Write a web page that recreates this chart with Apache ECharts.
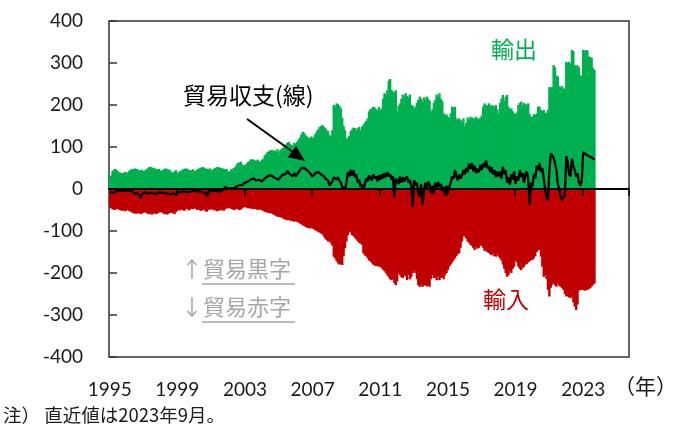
<!DOCTYPE html>
<html>
<head>
<meta charset="utf-8">
<script src="https://cdn.jsdelivr.net/npm/echarts@6/dist/echarts.min.js"></script>
<style>
  html, body { margin: 0; padding: 0; background: #fff; }
  #chart { width: 678px; height: 427px; }
</style>
</head>
<body>
<div id="chart"></div>
<script>
// Monthly trade, Jan 1995 – Sep 2023 (one row per year)
const exportsData = [
  29,32,43,46,48,45,42,40,38,37,39,41,        // 1995
  38,40,44,46,48,47,49,48,46,45,44,46,        // 1996
  42,44,47,49,52,53,51,50,49,48,46,48,        // 1997
  44,43,46,48,49,47,46,44,40,38,42,45,        // 1998
  40,38,43,44,47,48,49,48,46,45,44,47,        // 1999
  42,44,46,48,50,51,52,51,49,48,47,49,        // 2000
  44,46,48,50,52,53,51,50,49,48,46,48,        // 2001
  42,41,46,47,50,52,58,62,63,65,58,56,        // 2002
  57,60,64,66,70,71,70,68,67,70,66,65,        // 2003
  70,72,80,83,88,90,92,93,90,92,88,95,        // 2004
  88,92,96,98,102,106,110,112,108,105,102,110, // 2005
  108,112,118,122,130,136,134,128,125,122,120,125, // 2006
  121,125,132,138,142,148,150,152,148,145,140,138, // 2007
  128,126,140,200,196,204,202,198,192,170,150,140, // 2008
  118,122,126,138,142,146,145,140,145,148,140,148, // 2009
  152,158,162,168,185,190,192,196,194,190,188,195, // 2010
  188,192,215,228,225,235,258,262,236,232,230,235, // 2011
  185,198,204,215,225,220,228,222,218,225,200,198, // 2012
  190,196,205,212,220,215,208,218,212,220,215,210, // 2013
  182,190,205,212,225,220,228,215,210,180,175,178, // 2014
  172,170,180,196,194,196,168,165,168,164,160,168, // 2015
  150,158,170,165,172,168,170,166,172,168,165,170, // 2016
  175,196,204,200,198,204,196,200,198,196,200,190, // 2017
  180,205,215,224,210,220,224,196,190,192,185,180, // 2018
  178,182,200,205,208,200,205,202,200,204,178,172, // 2019
  172,178,176,180,196,196,188,185,188,180,182,188, // 2020
  243,240,243,295,290,270,268,245,242,245,240,238, // 2021
  303,300,303,298,331,328,295,292,295,290,271,268, // 2022
  331,328,331,330,315,315,312,288,283              // 2023
];

const importsData = [
  -42,-46,-48,-50,-49,-48,-47,-50,-51,-52,-50,-53,   // 1995
  -51,-50,-53,-54,-56,-58,-58,-59,-57,-58,-60,-58,   // 1996
  -56,-55,-57,-59,-60,-58,-61,-59,-57,-60,-58,-56,   // 1997
  -55,-56,-58,-60,-59,-61,-58,-57,-56,-58,-60,-55,   // 1998
  -52,-50,-51,-49,-50,-52,-48,-47,-51,-49,-47,-48,   // 1999
  -46,-47,-50,-48,-51,-52,-50,-49,-53,-54,-50,-48,   // 2000
  -49,-48,-51,-50,-53,-52,-50,-51,-49,-52,-48,-46,   // 2001
  -46,-44,-47,-48,-50,-49,-47,-48,-50,-49,-46,-44,   // 2002
  -43,-44,-46,-45,-47,-46,-48,-47,-48,-50,-48,-49,   // 2003
  -50,-52,-54,-55,-56,-57,-58,-58,-60,-62,-64,-66,   // 2004
  -66,-67,-68,-70,-72,-73,-74,-74,-75,-76,-76,-78,   // 2005
  -76,-78,-80,-82,-84,-86,-88,-90,-92,-93,-94,-92,   // 2006
  -94,-96,-98,-100,-102,-104,-106,-108,-113,-118,-122,-125, // 2007
  -125,-129,-135,-161,-165,-172,-177,-180,-178,-181,-160,-141, // 2008
  -125,-110,-101,-104,-110,-112,-116,-120,-124,-128,-130,-133, // 2009
  -153,-158,-160,-165,-170,-172,-176,-180,-182,-184,-183,-185, // 2010
  -185,-188,-192,-196,-200,-205,-210,-215,-217,-215,-224,-229, // 2011
  -220,-200,-205,-210,-212,-205,-208,-217,-205,-215,-210,-200, // 2012
  -195,-200,-215,-229,-233,-228,-233,-230,-229,-232,-229,-233, // 2013
  -215,-205,-212,-210,-217,-208,-217,-212,-210,-215,-205,-200, // 2014
  -193,-185,-180,-175,-170,-165,-160,-155,-153,-140,-125,-113, // 2015
  -113,-118,-125,-128,-133,-135,-140,-145,-138,-142,-140,-135, // 2016
  -135,-140,-148,-145,-150,-152,-155,-158,-153,-160,-161,-155, // 2017
  -161,-165,-170,-180,-190,-200,-209,-205,-195,-200,-190,-185, // 2018
  -170,-175,-185,-190,-193,-188,-185,-180,-178,-175,-172,-169, // 2019
  -169,-165,-160,-150,-145,-145,-161,-185,-209,-205,-214,-240, // 2020
  -256,-235,-228,-224,-229,-233,-225,-230,-233,-236,-240,-250, // 2021
  -256,-255,-258,-260,-256,-270,-280,-288,-275,-242,-240,-240, // 2022
  -240,-242,-241,-240,-238,-236,-232,-228,-225                 // 2023
];

const balanceData = [
  -6,-8,-10,-9,-7,-6,-4,-2,-3,-1,-5,-2,      // 1995
  -4,-1,-3,-2,-6,-8,-11,-14,-10,-16,-22,-12, // 1996
  -10,-8,-9,-11,-10,-9,-10,-11,-9,-12,-10,-8, // 1997
  -10,-9,-8,-10,-12,-11,-9,-13,-12,-10,-11,-14, // 1998
  -6,-4,-8,-5,-6,-7,-6,-5,-8,-4,-6,-3,       // 1999
  -4,-2,-6,-3,-5,-2,-8,-6,-9,-18,-7,-4,      // 2000
  -5,-3,-4,-2,-5,-3,-6,-2,-4,-1,5,8,         // 2001
  0,-1,2,0,1,3,6,7,9,8,9,6,                  // 2002
  15,17,18,20,22,24,25,22,20,24,22,20,       // 2003
  18,22,25,26,30,31,33,30,29,28,25,28,       // 2004
  22,28,32,34,38,36,42,40,35,33,30,38,       // 2005
  30,35,40,45,50,53,50,48,45,42,38,35,       // 2006
  30,33,38,41,40,38,35,33,30,25,22,20,       // 2007
  8,10,18,28,25,22,28,20,15,5,2,0,           // 2008
  15,40,30,45,32,45,28,35,15,22,5,12,        // 2009
  -2,10,25,18,32,28,20,35,25,30,18,32,       // 2010
  22,35,25,38,28,40,30,35,22,30,-20,25,      // 2011
  25,12,30,15,28,18,25,30,15,22,8,-42,       // 2012
  21,8,15,-10,-18,12,-38,-5,15,0,18,10,      // 2013
  -10,8,-12,15,0,17,5,12,-5,5,-15,8,         // 2014
  -10,5,15,30,25,45,30,20,35,25,32,45,       // 2015
  35,50,40,60,48,62,42,55,38,48,40,58,       // 2016
  45,60,52,68,50,55,40,52,35,45,28,42,       // 2017
  30,42,25,53,35,45,15,28,10,35,22,42,       // 2018
  12,30,20,45,28,38,15,35,42,22,-38,15,      // 2019
  5,35,25,55,45,62,40,50,25,-2,-20,-26,      // 2020
  45,85,82,74,62,45,12,0,-18,-26,-22,-15,    // 2021
  78,65,35,30,72,55,45,30,37,15,8,20,        // 2022
  88,86,82,80,78,75,75,72,70                 // 2023
];

// Year labels shown under the axis
const yearTicks = ['1995', '1999', '2003', '2007', '2011', '2015', '2019', '2023'];

// Monthly categories; the axis runs past the last observation
const startYear = 1995;
const monthSlots = 369;
const categories = [];
for (let i = 0; i < monthSlots; i++) {
  const y = startYear + Math.floor(i / 12);
  const m = (i % 12) + 1;
  categories.push(y + '-' + (m < 10 ? '0' + m : '' + m));
}

const GREEN = '#00b050';
const RED = '#c00000';
const GRAY = '#a6a6a6';
const JP = '"Noto Sans CJK JP", sans-serif';
const NUM = 'Lato, "Liberation Sans", sans-serif';

const chart = echarts.init(document.getElementById('chart'), null, { renderer: 'canvas' });

chart.setOption({
  animation: false,
  backgroundColor: '#fff',
  grid: {
    left: 109, right: 49, top: 21, bottom: 70,
    show: true, borderColor: '#333', borderWidth: 1.5, backgroundColor: 'transparent'
  },
  xAxis: [
    {
      type: 'category',
      data: categories,
      position: 'bottom',
      axisLine: { show: false, onZero: false },
      axisTick: { show: false },
      splitLine: { show: false },
      axisLabel: {
        interval: (idx, val) => val.endsWith('-01') && yearTicks.includes(val.slice(0, 4)),
        formatter: (val) => val.slice(0, 4),
        margin: 23,
        fontFamily: NUM, fontSize: 19, color: '#1a1a1a'
      }
    },
    {
      type: 'category',
      data: categories,
      z: 3,
      axisLine: { show: true, onZero: true, onZeroAxisIndex: 0, lineStyle: { color: '#000', width: 2 } },
      axisTick: {
        show: true, inside: true, length: 7,
        interval: (idx) => idx > 0 && idx % 48 === 0,
        lineStyle: { color: '#000', width: 1.5 }
      },
      axisLabel: { show: false },
      splitLine: { show: false }
    }
  ],
  yAxis: {
    type: 'value',
    min: -400, max: 400, interval: 100,
    axisLine: { show: false },
    axisTick: { show: true, inside: true, length: 8, lineStyle: { color: '#333', width: 1.5 } },
    splitLine: { show: false },
    axisLabel: { margin: 26, fontFamily: NUM, fontSize: 19, color: '#1a1a1a' }
  },
  series: [
    {
      // bars slightly wider than a month slot so neighbours overlap without seams
      name: '輸出', type: 'bar', xAxisIndex: 0, data: exportsData,
      barWidth: 2.4, barGap: '-100%', z: 2,
      itemStyle: { color: GREEN }
    },
    {
      name: '輸入', type: 'bar', xAxisIndex: 0, data: importsData,
      barWidth: 2.4, barGap: '-100%', z: 2,
      itemStyle: { color: RED }
    },
    {
      name: '貿易収支', type: 'line', xAxisIndex: 0, data: balanceData,
      symbol: 'none', z: 5,
      lineStyle: { color: '#000', width: 2.3 }
    }
  ],
  graphic: [
    { type: 'text', left: 183, top: 84, z: 10,
      style: { text: '貿易収支(線)', font: '23px ' + JP, fill: '#000' } },
    { type: 'line', z: 10,
      shape: { x1: 247, y1: 119, x2: 293, y2: 152 },
      style: { stroke: '#000', lineWidth: 2 } },
    { type: 'polygon', z: 10,
      shape: { points: [[305, 161], [287.9, 157.3], [296.1, 145.9]] },
      style: { fill: '#000' } },
    { type: 'text', left: 491, top: 38, z: 10,
      style: { text: '輸出', font: '23px ' + JP, fill: GREEN } },
    { type: 'text', left: 483, top: 288, z: 10,
      style: { text: '輸入', font: '23px ' + JP, fill: RED } },
    { type: 'text', left: 181, top: 258, z: 10,
      style: { text: '↑貿易黒字', font: '22px ' + JP, fill: GRAY } },
    { type: 'line', z: 10, shape: { x1: 202, y1: 284, x2: 295, y2: 284 },
      style: { stroke: GRAY, lineWidth: 1.5 } },
    { type: 'text', left: 181, top: 296, z: 10,
      style: { text: '↓貿易赤字', font: '22px ' + JP, fill: GRAY } },
    { type: 'line', z: 10, shape: { x1: 202, y1: 322, x2: 295, y2: 322 },
      style: { stroke: GRAY, lineWidth: 1.5 } },
    { type: 'text', left: 614, top: 376, z: 10,
      style: { text: '（年）', font: '21px ' + JP, fill: '#1a1a1a' } },
    { type: 'text', left: 3, top: 406, z: 10,
      style: { text: '注） 直近値は2023年9月。', font: '18.5px ' + JP, fill: '#1a1a1a' } }
  ]
});
</script>
</body>
</html>
